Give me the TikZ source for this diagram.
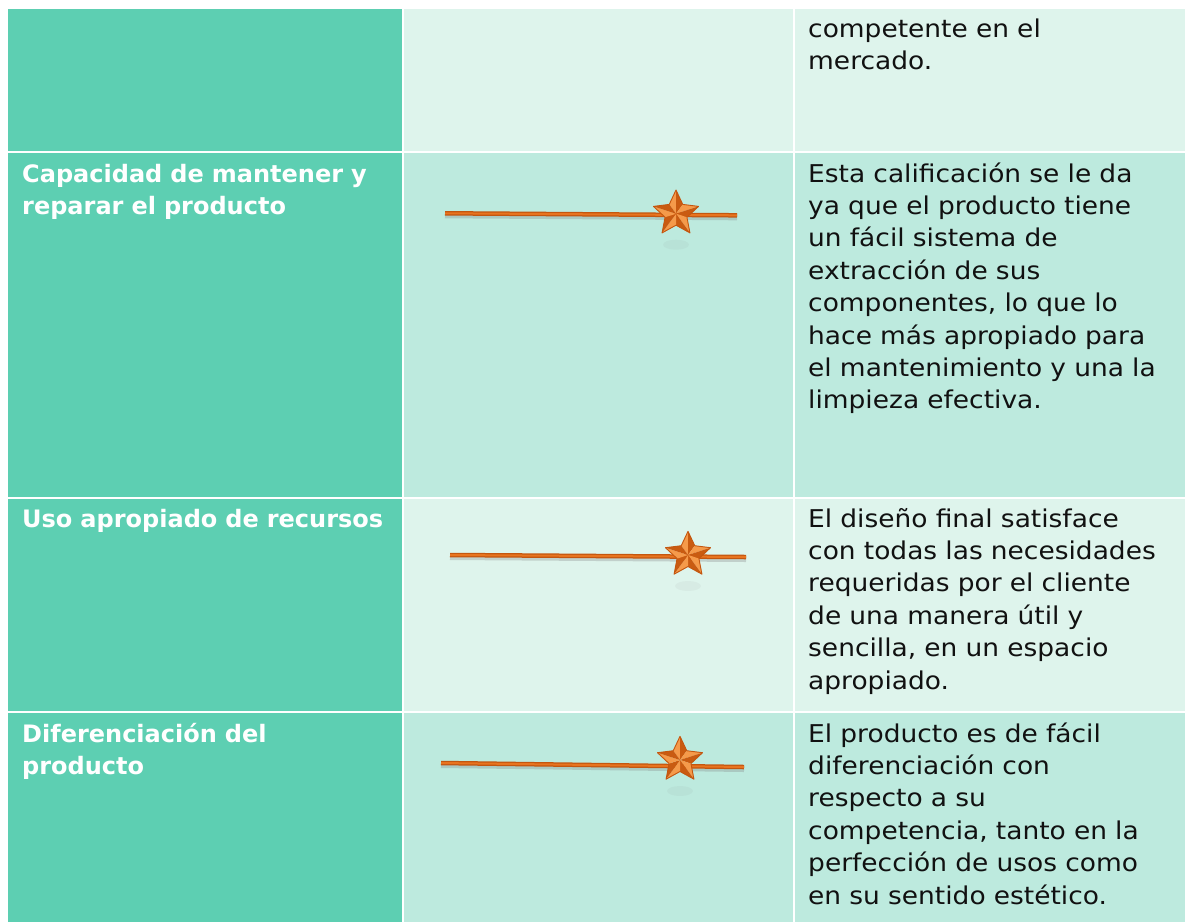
\documentclass[tikz,border=0pt]{standalone}
\usepackage{fontspec}
\setmainfont{DejaVu Sans}
\newfontfamily\descfont{DejaVu Sans}[FakeStretch=1.08]
\definecolor{colA}{HTML}{5DCFB2}
\definecolor{bandL}{HTML}{DEF4EC}
\definecolor{bandM}{HTML}{BDEADE}
\definecolor{orD}{HTML}{C4560F}
\definecolor{orM}{HTML}{E8741F}
\definecolor{orL}{HTML}{F59A4A}
\definecolor{txt}{HTML}{111111}
\tikzset{
  desc/.style={inner sep=0pt, text width=380pt, align=left, anchor=base west,
    font=\descfont\fontsize{24.5}{32.4}\selectfont, text=txt},
  lbl/.style={inner sep=0pt, text width=380pt, align=left, anchor=base west,
    font=\bfseries\fontsize{24}{32.4}\selectfont, text=white},
  pics/rstar/.style={code={
    \fill[gray, opacity=0.07] (0,31) ellipse [x radius=13, y radius=5];
    \foreach \k in {0,...,4}{
      \pgfmathsetmacro\a{-90+72*\k}
      \fill[orL] (0,0) -- (\a:23.7) -- ({\a-36}:11.5) -- cycle;
      \fill[orD!85!orM] (0,0) -- (\a:23.7) -- ({\a+36}:11.5) -- cycle;
    }
    \draw[orD, line width=0.9pt, line join=round]
      (-90:23.7) -- (-54:11.5) -- (-18:23.7) -- (18:11.5) -- (54:23.7) --
      (90:11.5) -- (126:23.7) -- (162:11.5) -- (198:23.7) -- (234:11.5) -- cycle;
  }},
  barshadow/.style={line width=4pt, gray, opacity=0.3},
  barouter/.style={line width=4.5pt, orD},
  barinner/.style={line width=2pt, orM},
}
\begin{document}
\begin{tikzpicture}[x=1pt,y=-1pt]
\useasboundingbox (0,0) rectangle (1185,922);
\fill[white] (0,0) rectangle (1185,922);
% column 1
\fill[colA] (7.5,9) rectangle (402,151);
\fill[colA] (7.5,152.5) rectangle (402,497);
\fill[colA] (7.5,499) rectangle (402,711);
\fill[colA] (7.5,713) rectangle (402,922);
% columns 2 and 3
\fill[bandL] (404,9) rectangle (793,151);
\fill[bandL] (795,9) rectangle (1185,151);
\fill[bandM] (404,152.5) rectangle (793,497);
\fill[bandM] (795,152.5) rectangle (1185,497);
\fill[bandL] (404,499) rectangle (793,711);
\fill[bandL] (795,499) rectangle (1185,711);
\fill[bandM] (404,713) rectangle (793,922);
\fill[bandM] (795,713) rectangle (1185,922);

% row 1
\node[desc] (d1) at (808,37.5) {competente en el\\mercado.};
% row 2
\node[lbl] (l2) at (22,182) {Capacidad de mantener y\\reparar el producto};
\node[desc] (d2) at (808,182) {Esta calificación se le da\\ya que el producto tiene\\un fácil sistema de\\extracción de sus\\componentes, lo que lo\\hace más apropiado para\\el mantenimiento y una la\\limpieza efectiva.};
% row 3
\node[lbl] (l3) at (22,527) {Uso apropiado de recursos};
\node[desc] (d3) at (808,527) {El diseño final satisface\\con todas las necesidades\\requeridas por el cliente\\de una manera útil y\\sencilla, en un espacio\\apropiado.};
% row 4
\node[lbl] (l4) at (22,742) {Diferenciación del\\producto};
\node[desc] (d4) at (808,742) {El producto es de fácil\\diferenciación con\\respecto a su\\competencia, tanto en la\\perfección de usos como\\en su sentido estético.};

% rating bars
\coordinate (a2) at (445,213.3); \coordinate (b2) at (737,215.3);
\coordinate (a3) at (450,555);   \coordinate (b3) at (746,557);
\coordinate (a4) at (441,763);   \coordinate (b4) at (744,767);
\foreach \r in {2,3,4}{
  \draw[barshadow] ([yshift=-3pt]a\r) -- ([yshift=-3pt]b\r);
  \draw[barouter] (a\r) -- (b\r);
  \draw[barinner] (a\r) -- (b\r);
}
\pic at (676,213.7) {rstar};
\pic at (688,555) {rstar};
\pic at (680,760) {rstar};
\end{tikzpicture}
\end{document}
